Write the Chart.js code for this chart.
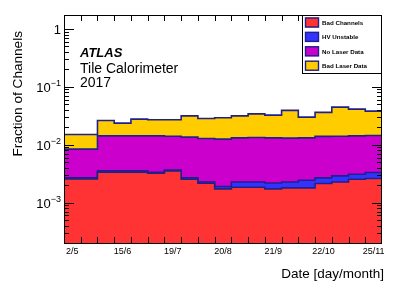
<!DOCTYPE html>
<html><head><meta charset="utf-8">
<script src="https://cdn.jsdelivr.net/npm/chart.js@4/dist/chart.umd.min.js"></script>
<style>html,body{margin:0;padding:0;background:#fff;overflow:hidden}#wrap{width:403px;height:291px;position:relative}</style>
</head><body><div id="wrap"><canvas id="c" width="403" height="291"></canvas></div>
<script>
// ---- data (fraction of channels per two-week bin) ----
const binLabels = ['2/5','','','15/6','','','19/7','','','20/8','','','21/9','','','22/10','','','25/11'];
const badChannels  = [0.00256,0.00334,0.00334,0.00334,0.00320,0.00350,0.00253,0.00216,0.00172,0.00184,0.00184,0.00172,0.00179,0.00179,0.00213,0.00227,0.00253,0.00260,0.00253];
const hvUnstable   = [0.00011,0.00018,0.00018,0.00018,0.00014,0.00016,0.00014,0.00011,0.00017,0.00043,0.00043,0.00046,0.00048,0.00064,0.00054,0.00062,0.00056,0.00070,0.00077];
const noLaserData  = [0.00569,0.01068,0.01068,0.01068,0.01086,0.01034,0.01083,0.01053,0.01056,0.01083,0.01103,0.01092,0.01073,0.01067,0.01123,0.01111,0.01111,0.01110,0.01150];
const badLaserData = [0.00664,0.0120,0.0094,0.0134,0.0127,0.0129,0.0180,0.0156,0.0167,0.0184,0.0208,0.0193,0.0261,0.0168,0.0222,0.0305,0.0269,0.0236,0.0213];
const seriesNames  = ['Bad Channels','HV Unstable','No Laser Data','Bad Laser Data'];
const yTickExps    = [0,-1,-2,-3];

const series = [badChannels, hvUnstable, noLaserData, badLaserData];
const fills = ['#ff3333','#3333ff','#cc00cc','#ffcc00'];
const lineCol = '#20208a';
const nb = binLabels.length;

// cumulative (stacked) tops, as step data at bin edges
const cum = [];
let run = new Array(nb).fill(0);
series.forEach((s, k) => {
  run = run.map((v, i) => v + s[i]);
  const pts = [{x: 0, y: run[0]}];
  run.forEach((v, i) => pts.push({x: i + 1, y: v}));
  cum.push(pts);
});

const datasets = cum.map((pts, k) => ({
  label: seriesNames[k],
  data: pts,
  stepped: 'before',
  borderColor: lineCol,
  borderWidth: 1.6,
  backgroundColor: fills[k],
  fill: k === 0 ? 'start' : '-1',
  pointRadius: 0,
  tension: 0
}));

const FONT = '"Liberation Sans", Arial, Helvetica, sans-serif';

const decor = {
  id: 'decor',
  afterDraw(chart) {
    const ctx = chart.ctx;
    const ca = chart.chartArea;
    const xs = chart.scales.x, ys = chart.scales.y;
    ctx.save();
    ctx.strokeStyle = '#000';
    ctx.lineWidth = 1;
    ctx.beginPath();
    for (let i = 1; i < nb; i++) {
      const x = Math.round(xs.getPixelForValue(i)) + 0.5;
      ctx.moveTo(x, ca.bottom); ctx.lineTo(x, ca.bottom - 6);
      ctx.moveTo(x, ca.top); ctx.lineTo(x, ca.top + 6);
    }
    for (let e = -4; e <= 0; e++) {
      for (let m = 1; m <= 9; m++) {
        const v = m * Math.pow(10, e);
        if (v < ys.min || v > ys.max) continue;
        const y = Math.round(ys.getPixelForValue(v)) + 0.5;
        const len = m === 1 ? 10 : 5;
        ctx.moveTo(ca.left, y); ctx.lineTo(ca.left + len, y);
        ctx.moveTo(ca.right, y); ctx.lineTo(ca.right - len, y);
      }
    }
    ctx.stroke();
    ctx.strokeRect(Math.round(ca.left) + 0.5, Math.round(ca.top) + 0.5, Math.round(ca.right - ca.left) - 1, Math.round(ca.bottom - ca.top));

    ctx.fillStyle = '#000';
    ctx.font = '9px ' + FONT;
    ctx.textAlign = 'center'; ctx.textBaseline = 'middle';
    binLabels.forEach((l, i) => {
      if (!l) return;
      ctx.fillText(l, xs.getPixelForValue(i + 0.5), ca.bottom + 9);
    });
    yTickExps.forEach(e => {
      const y = ys.getPixelForValue(Math.pow(10, e));
      const rx = ca.left - 3;
      if (e === 0) {
        ctx.font = '13px ' + FONT; ctx.textAlign = 'right'; ctx.textBaseline = 'alphabetic';
        ctx.fillText('1', rx, y + 5);
      } else {
        ctx.font = '9px ' + FONT; ctx.textAlign = 'right'; ctx.textBaseline = 'alphabetic';
        const sup = '\u2212' + (-e);
        ctx.fillText(sup, rx, y - 1);
        const sw = ctx.measureText(sup).width;
        ctx.font = '13px ' + FONT;
        ctx.fillText('10', rx - sw, y + 5);
      }
    });
    ctx.font = '13.6px ' + FONT;
    ctx.save();
    ctx.translate(18, 31);
    ctx.rotate(-Math.PI / 2);
    ctx.textAlign = 'right'; ctx.textBaseline = 'middle';
    ctx.fillText('Fraction of Channels', 0, 0);
    ctx.restore();
    ctx.font = '13.5px ' + FONT;
    ctx.textAlign = 'right'; ctx.textBaseline = 'middle';
    ctx.fillText('Date [day/month]', 384, 274);
    ctx.textAlign = 'left'; ctx.textBaseline = 'alphabetic';
    ctx.font = 'italic bold 13px ' + FONT;
    ctx.fillText('ATLAS', 80, 57);
    ctx.font = '14px ' + FONT;
    ctx.fillText('Tile Calorimeter', 80, 73);
    ctx.fillText('2017', 80, 87);
    const lx = 302, ly = ca.top, lw = ca.right - 302, lh = 58;
    ctx.fillStyle = '#fff';
    ctx.fillRect(lx, ly, lw, lh);
    ctx.strokeStyle = '#000';
    ctx.strokeRect(lx + 0.5, ly + 0.5, lw - 1, lh);
    seriesNames.forEach((n, k) => {
      const cy = ly + 7.5 + k * 14.4;
      ctx.fillStyle = fills[k];
      ctx.fillRect(305, cy - 5, 14, 10);
      ctx.strokeStyle = lineCol; ctx.lineWidth = 1.4;
      ctx.strokeRect(305.5, cy - 4.5, 13, 9);
      ctx.fillStyle = '#000';
      ctx.font = 'bold 6.2px ' + FONT;
      ctx.textAlign = 'left'; ctx.textBaseline = 'middle';
      ctx.fillText(n, 322, cy + 0.5);
    });
    ctx.restore();
  }
};

new Chart(document.getElementById('c'), {
  type: 'line',
  data: { datasets },
  options: {
    responsive: false,
    devicePixelRatio: 1,
    animation: false,
    layout: { padding: { left: 64, right: 21, top: 15, bottom: 48 } },
    plugins: { legend: { display: false }, tooltip: { enabled: false } },
    scales: {
      x: { type: 'linear', min: 0, max: nb, display: false },
      y: { type: 'logarithmic', min: 2e-4, max: 1.74, display: false }
    }
  },
  plugins: [decor]
});
</script></body></html>
